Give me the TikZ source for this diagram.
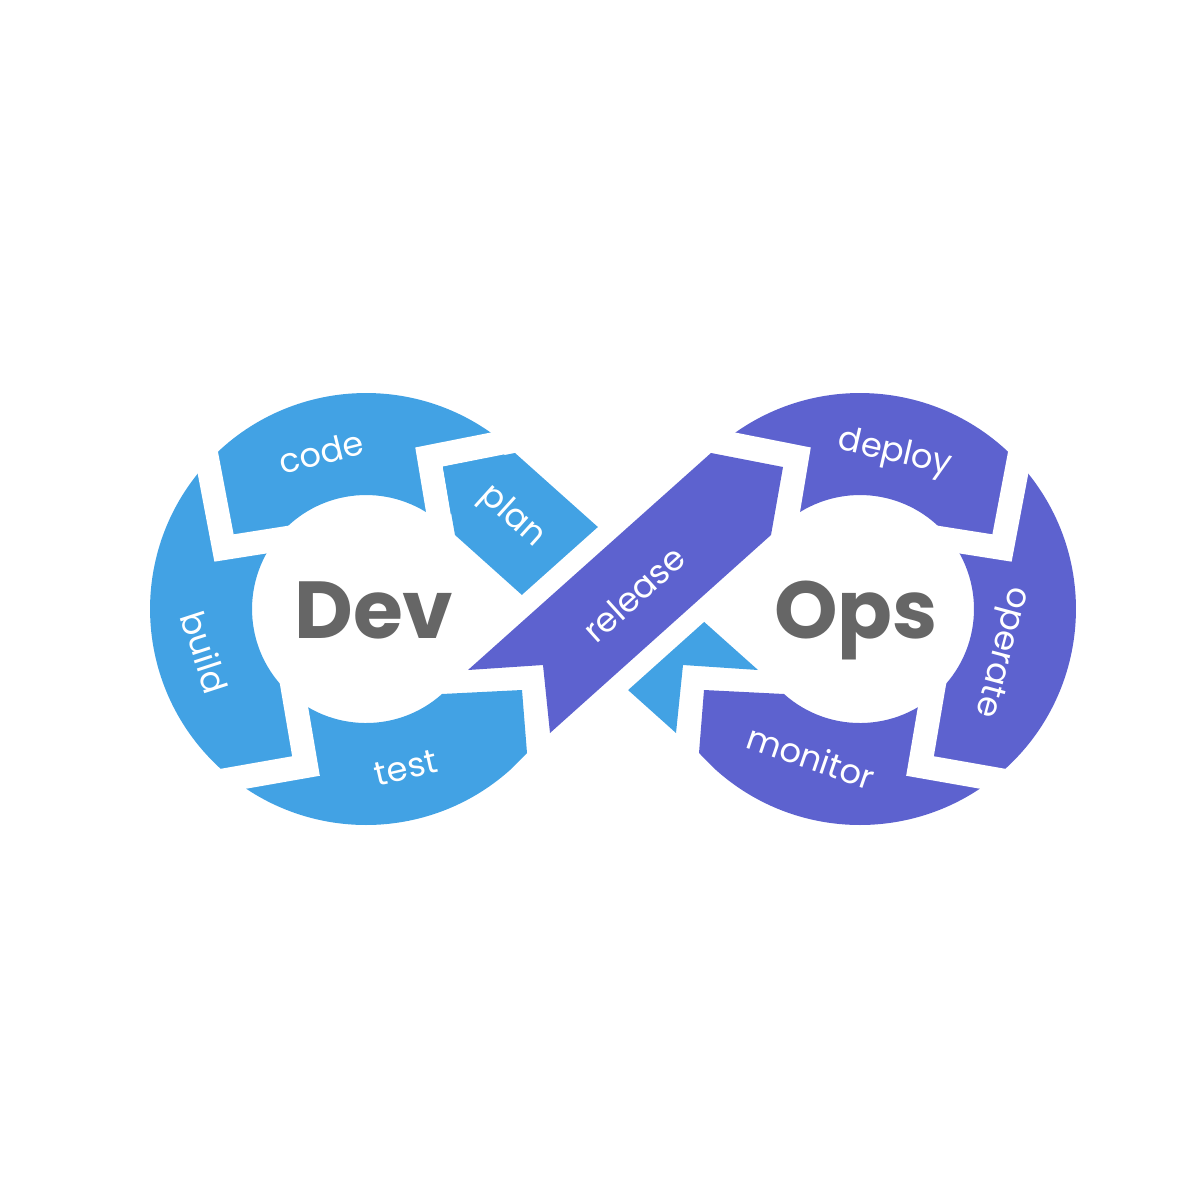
\documentclass[tikz,border=0pt]{standalone}
\usepackage{fontspec}
\setmainfont{Poppins}
\definecolor{devblue}{HTML}{42A2E4}
\definecolor{opspurple}{HTML}{5D62CF}
\definecolor{bigtext}{HTML}{666666}
\tikzset{cutline/.style={white, line width=2.4mm, line join=miter},
  stagetext/.style={text=white, inner sep=0pt, font=\fontsize{9.6}{11}\selectfont},
  bigword/.style={text=bigtext, anchor=base, inner sep=0pt, font=\fontsize{23}{26}\selectfont\bfseries}}

\begin{document}
\begin{tikzpicture}[x=0.1mm, y=-0.1mm]
  \useasboundingbox (0,0) rectangle (1200,1200);
  % left loop, the right one is its mirror
  \foreach \s/\c in {1/devblue, -1/opspurple} {
    \begin{scope}[shift={({613-613*\s},0)}, xscale=\s]
      \fill[\c] (510,448) arc[start angle=-48.2, end angle=-311.8, radius=216]
        -- (527,753) -- (522,690) -- (442,694)
        arc[start angle=48.2, end angle=311.8, radius=114] -- cycle;
      \draw[cutline] (444,547) -- (429,457) -- (530,437);
      \draw[cutline] (202,432) -- (224,548) -- (300,536);
      \draw[cutline] (290,672) -- (306,766) -- (215,782);
    \end{scope}
  }
  % the crossing, plan goes under release
  \fill[devblue] (758,670) -- (683,665) -- (676,733) -- (455,535) -- (443,467) -- (515,453) -- cycle;
  \fill[opspurple, preaction={draw=white, line width=4mm, line join=round}]
    (468,670) -- (543,665) -- (550,733) -- (771,535) -- (783,467) -- (711,453) -- cycle;

  \node[bigword] (dev) at (374,638) {Dev};
  \node[bigword] (ops) at (856,638) {Ops};
  \node[stagetext, rotate=14] (code) at (321,452) {code};
  \node[stagetext, rotate=-42] (plan) at (512,517) {plan};
  \node[stagetext, rotate=-72] (build) at (205,652) {build};
  \node[stagetext, rotate=13] (test) at (406,768) {test};
  \node[stagetext, rotate=42] (release) at (634,594) {release};
  \node[stagetext, rotate=-13] (deploy) at (895,454) {deploy};
  \node[stagetext, rotate=-105] (operate) at (1000,652) {operate};
  \node[stagetext, rotate=-19] (monitor) at (811,757) {monitor};
\end{tikzpicture}
\end{document}
